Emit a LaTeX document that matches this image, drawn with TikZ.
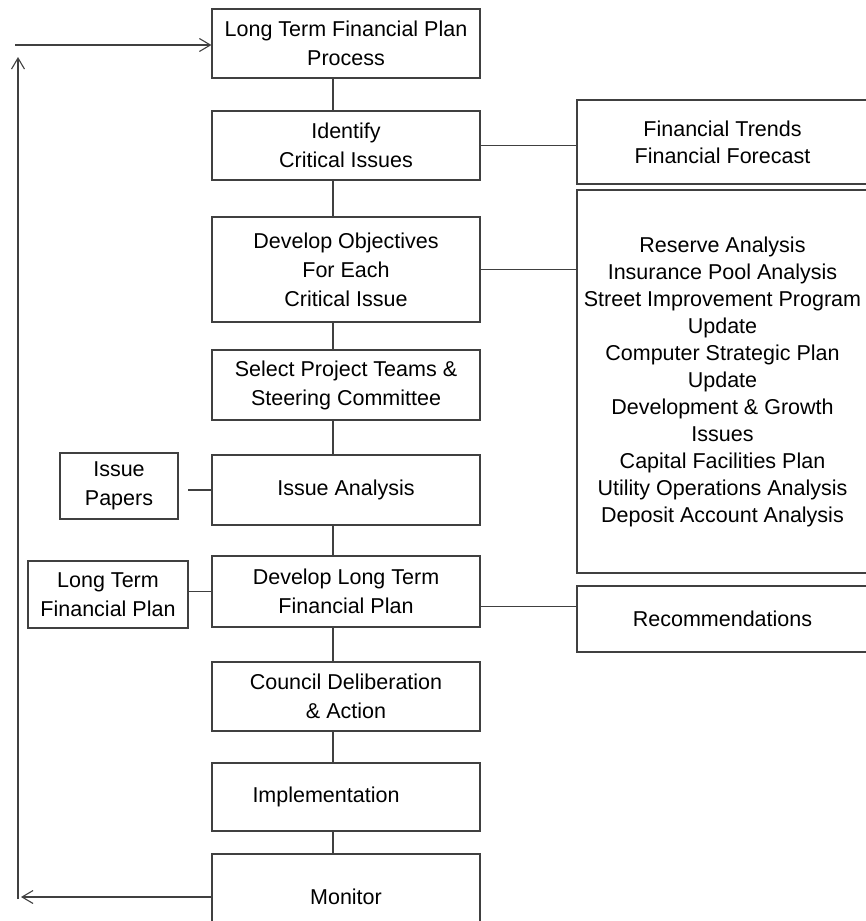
\documentclass[tikz,border=0pt]{standalone}
\usepackage{fontspec}
\setmainfont{Liberation Sans}
\usetikzlibrary{arrows.meta}

\tikzset{
  box/.style={draw=black!75, line width=1.1pt, align=center, inner sep=0pt,
    font=\fontsize{21.5}{29}\selectfont},
  mainbox/.style={box, minimum width=268pt},
  sidebox/.style={box, minimum width=291pt, font=\fontsize{21.5}{27}\selectfont},
  link/.style={draw=black!75, line width=1.1pt},
  feedback/.style={link, -{Straight Barb[length=11pt,width=13pt,line width=1.1pt]}}
}

\begin{document}
\begin{tikzpicture}[x=1pt,y=-1pt]
  \useasboundingbox (0,0) rectangle (866,921);

  \node[mainbox, minimum height=69pt] (process) at (346,43.5) {Long Term Financial Plan\\Process};
  \node[mainbox, minimum height=69pt] (identify) at (346,145.5) {Identify\\Critical Issues};
  \node[mainbox, minimum height=105pt] (objectives) at (346,269.5) {Develop Objectives\\For Each\\Critical Issue};
  \node[mainbox, minimum height=70pt] (teams) at (346,385) {Select Project Teams \&\\Steering Committee};
  \node[mainbox, minimum height=70pt] (issues) at (346,490) {Issue Analysis};
  \node[mainbox, minimum height=71pt] (devplan) at (346,591.5) {Develop Long Term\\Financial Plan};
  \node[mainbox, minimum height=69pt] (council) at (346,696.5) {Council Deliberation\\\& Action};
  \node[mainbox, minimum height=68pt] (implement) at (346,797) {Implementation\hspace*{40pt}};
  \node[mainbox, minimum height=86pt] (monitor) at (346,897) {Monitor};

  \node[sidebox, minimum height=84pt] (trends) at (722.5,142) {Financial Trends\\Financial Forecast};
  \node[sidebox, minimum height=383pt] (analyses) at (722.5,381.5) {Reserve Analysis\\Insurance Pool Analysis\\Street Improvement Program\\Update\\Computer Strategic Plan\\Update\\Development \& Growth\\Issues\\Capital Facilities Plan\\Utility Operations Analysis\\Deposit Account Analysis};
  \node[sidebox, minimum height=66pt] (recommend) at (722.5,619) {Recommendations};

  \node[box, minimum width=118pt, minimum height=66pt] (papers) at (119,486) {Issue\\Papers};
  \node[box, minimum width=160pt, minimum height=67pt] (ltfp) at (108,594.5) {Long Term\\Financial Plan};

  \coordinate (spine) at (333,0);
  \foreach \a/\b in {process/identify, identify/objectives, objectives/teams, teams/issues,
      issues/devplan, devplan/council, council/implement, implement/monitor}
    \draw[link] (\a.south -| spine) -- (\b.north -| spine);

  \draw[link] (identify.east) -- (identify.east -| trends.west);
  \draw[link] (objectives.east) -- (objectives.east -| analyses.west);
  \draw[link] ([yshift=-15pt]devplan.east) -- ([yshift=-15pt]devplan.east -| recommend.west);
  \draw[link, shorten >=9pt] (issues.west) -- (issues.west -| papers.east);
  \draw[link] (devplan.west) -- (devplan.west -| ltfp.east);

  \coordinate (lowturn) at (18,897);
  \coordinate (topturn) at (18,45);
  \draw[feedback, shorten >=3pt] (monitor.west) -- (lowturn);
  \draw[feedback, shorten >=12pt] ([yshift=-2pt]lowturn) -- (topturn);
  \draw[feedback] ([xshift=-3pt]topturn) -- (topturn -| process.west);
\end{tikzpicture}
\end{document}
